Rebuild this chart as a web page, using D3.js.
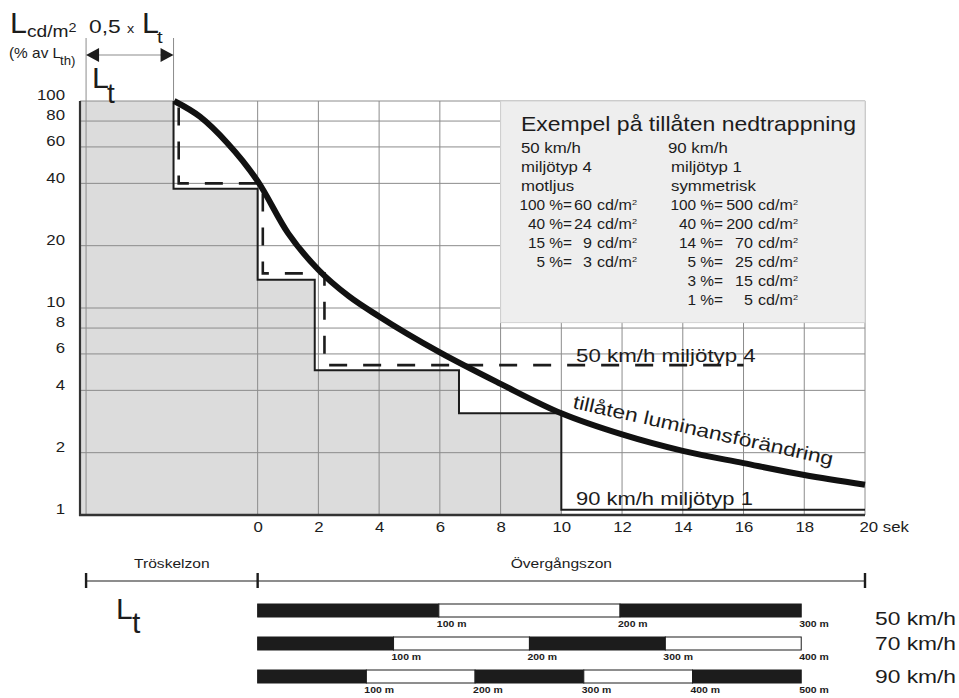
<!DOCTYPE html>
<html>
<head>
<meta charset="utf-8">
<script src="https://cdn.jsdelivr.net/npm/d3@7"></script>
<style>
  body { margin: 0; background: #fff; }
  svg { display: block; font-family: "Liberation Sans", Arial, sans-serif; }
</style>
</head>
<body>
<div id="chart"></div>
<script>
/* Nedtrappning av luminans i tunnel — tröskel- och övergångszon */

// axlar
const yTicks = [1, 2, 4, 6, 8, 10, 20, 40, 60, 80, 100];
const xTicks = [0, 2, 4, 6, 8, 10, 12, 14, 16, 18, 20];
const tMin = -5.85, tMax = 20;   // sek
const Lt = 5.65;                 // tröskelzonens längd (sek)

// tillåten luminansförändring (% av Lth)
const curveT = [-2.75, -1.9, -1.0, -0.5, 0, 1, 2, 3, 4, 6, 8, 10, 12, 14, 16, 18, 20];
const curveV = [100, 84, 62.7, 51.5, 41, 23, 15.3, 11.4, 9.1, 6.1, 4.3, 3.1, 2.45, 2.04, 1.78, 1.56, 1.4];

// 90 km/h miljötyp 1 (heldragen trappa)
const step90T = [-2.77, -2.77, 0, 1.88, 6.63, 10, 20];
const step90V = [100, 37.7, 13.7, 5.0, 3.1, 1.06, 1.06];

// 50 km/h miljötyp 4 (streckad trappa)
const step50T = [-2.6, -2.6, 0.17, 2.2, 16];
const step50V = [93, 40, 14.7, 5.3, 5.3];

// exempel-rutan
const pct50 = [100, 40, 15, 5];
const cd50 = [60, 24, 9, 3];
const pct90 = [100, 40, 14, 5, 3, 1];
const cd90 = [500, 200, 70, 25, 15, 5];

// skalstreck för avstånd
const barSpeeds = ["50 km/h", "70 km/h", "90 km/h"];
const barMax = [300, 400, 500];
const barStep = 100;
const barEnd = 17.9; // sek, där skalstrecken slutar

const W = 959, H = 698;
const INK = "#1c1c1c";
const svg = d3.select("#chart").append("svg").attr("width", W).attr("height", H);

const x = d3.scaleLinear().domain([tMin, tMax]).range([80, 865]);
const y = d3.scaleLog().domain([1, 100]).range([515, 101]);

function label(x0, y0, s, size, o = {}) {
  const t = svg.append("text")
    .attr("transform", `translate(${x0},${y0})${o.rotate ? ` rotate(${o.rotate})` : ""} scale(${o.sx || 1.2},1)`)
    .attr("font-size", size).attr("fill", o.fill || INK)
    .attr("text-anchor", o.anchor || "start");
  if (o.weight) t.attr("font-weight", o.weight);
  if (s != null) t.text(s);
  return t;
}
function unit(t, sup) {
  t.append("tspan").text("cd/m");
  t.append("tspan").attr("font-size", sup || 8).attr("dy", -5).text("2");
}

/* grå yta under 90 km/h-trappan fram till 10 s */
const fillEnd = step90T[5];
const fillPts = [[tMin, step90V[0]]].concat(
  step90T.map((t, i) => [t, step90V[i]]).slice(1).filter(p => p[0] < fillEnd));
fillPts.push([fillEnd, fillPts[fillPts.length - 1][1]]);
svg.append("path").datum(fillPts)
  .attr("d", d3.area().x(d => x(d[0])).y0(y(1)).y1(d => y(d[1])).curve(d3.curveStepAfter))
  .attr("fill", "#dcdcdc");

/* rutnät */
svg.append("g").selectAll("line").data(yTicks).join("line")
  .attr("x1", x(tMin)).attr("x2", x(tMax)).attr("y1", d => y(d)).attr("y2", d => y(d))
  .attr("stroke", "#8c8c8c").attr("stroke-width", 1);
svg.append("g").selectAll("line").data(xTicks.concat([-Lt])).join("line")
  .attr("x1", d => x(d)).attr("x2", d => x(d)).attr("y1", y(100)).attr("y2", y(1))
  .attr("stroke", "#8c8c8c").attr("stroke-width", 1);

/* exempel-ruta */
svg.append("rect").attr("x", x(8)).attr("y", y(100))
  .attr("width", x(20) - x(8)).attr("height", y(8.5) - y(100))
  .attr("fill", "#eeeeee").attr("stroke", "#d2d2d2");

/* trappor och kurva */
const stepLine = d3.line().x(d => x(d[0])).y(d => y(d[1])).curve(d3.curveStepAfter);
svg.append("path").attr("d", stepLine(step90T.map((t, i) => [t, step90V[i]])))
  .attr("fill", "none").attr("stroke", INK).attr("stroke-width", 2);
svg.append("path").attr("d", stepLine(step50T.map((t, i) => [t, step50V[i]])))
  .attr("fill", "none").attr("stroke", INK).attr("stroke-width", 2.6)
  .attr("stroke-dasharray", "18 16");
svg.append("path")
  .attr("d", d3.line().x(d => x(d[0])).y(d => y(d[1])).curve(d3.curveMonotoneX)(curveT.map((t, i) => [t, curveV[i]])))
  .attr("fill", "none").attr("stroke", "#111").attr("stroke-width", 6);

/* axlar */
const gy = svg.append("g").attr("transform", "translate(65,0)")
  .call(d3.axisLeft(y).tickValues(yTicks).tickFormat(d3.format("d")).tickSize(0).tickPadding(0));
gy.select(".domain").remove();
gy.selectAll("text").attr("font-size", 14).attr("fill", INK).attr("dy", "-0.08em")
  .attr("font-family", "Liberation Sans, Arial, sans-serif").attr("transform", "scale(1.2,1)");

const gx = svg.append("g").attr("transform", `translate(0,${y(1)})`)
  .call(d3.axisBottom(x).tickValues(xTicks).tickFormat(d => d === 20 ? "20 sek" : d).tickSize(0).tickPadding(7));
gx.select(".domain").remove();
gx.selectAll("text").attr("font-size", 14).attr("fill", INK)
  .attr("font-family", "Liberation Sans, Arial, sans-serif").attr("transform", "scale(1.2,1)");
gx.selectAll(".tick").filter(d => d === 20).select("text").attr("text-anchor", "start").attr("x", -5);

svg.append("line").attr("x1", x(tMin)).attr("x2", x(tMin)).attr("y1", y(100)).attr("y2", y(1) + 1)
  .attr("stroke", "#333").attr("stroke-width", 2.2);
svg.append("line").attr("x1", x(tMin) - 1).attr("x2", x(tMax)).attr("y1", y(1)).attr("y2", y(1))
  .attr("stroke", "#333").attr("stroke-width", 2.4);

/* axelrubrik */
label(10, 33, "L", 29, { sx: 1.05 });
label(27, 37, null, 16).call(t => unit(t, 12));
label(9, 58, "(% av L", 14, { sx: 1.1 });
label(60, 65, "th)", 12, { sx: 1.1 });

/* 0,5 x Lt med pil */
label(89, 33, "0,5", 18, { sx: 1.27 });
label(127, 33, "x", 12);
label(142, 33, "L", 29, { sx: 1.05 });
label(157, 43, "t", 17);
const xa = x(-Lt), xb = x(step90T[0]);
[xa, xb].forEach(v => svg.append("line").attr("x1", v).attr("x2", v).attr("y1", 38).attr("y2", y(100))
  .attr("stroke", "#8c8c8c").attr("stroke-width", 1));
svg.append("line").attr("x1", xa + 10).attr("x2", xb - 10).attr("y1", 55).attr("y2", 55)
  .attr("stroke", "#8c8c8c").attr("stroke-width", 1.2);
const tri = d3.line();
svg.append("path").attr("d", tri([[xa, 55], [xa + 13, 48], [xa + 13, 62]]) + "Z").attr("fill", INK);
svg.append("path").attr("d", tri([[xb, 55], [xb - 13, 48], [xb - 13, 62]]) + "Z").attr("fill", INK);

/* Lt i diagrammet */
label(92, 88, "L", 29, { sx: 1.05 });
label(107, 103, "t", 28, { sx: 1.0 });

/* text i exempel-rutan */
label(521, 131, "Exempel på tillåten nedtrappning", 20, { sx: 1.15 });
label(521, 153, "50 km/h", 14);
label(521, 172, "miljötyp 4", 14);
label(521, 191, "motljus", 14);
label(668, 153, "90 km/h", 14);
label(671, 172, "miljötyp 1", 14);
label(671, 191, "symmetrisk", 14);
pct50.forEach((p, i) => {
  const by = 210 + i * 19;
  label(572, by, p + " %=", 14, { anchor: "end", sx: 1.1 });
  label(592, by, cd50[i], 14, { anchor: "end", sx: 1.15 });
  label(597, by, null, 14, { sx: 1.15 }).call(t => unit(t));
});
pct90.forEach((p, i) => {
  const by = 210 + i * 19;
  label(723, by, p + " %=", 14, { anchor: "end", sx: 1.1 });
  label(753, by, cd90[i], 14, { anchor: "end", sx: 1.15 });
  label(758, by, null, 14, { sx: 1.15 }).call(t => unit(t));
});

/* kurvetiketter */
label(576, 362, "50 km/h miljötyp 4", 18, { sx: 1.24 });
label(576, 505, "90 km/h miljötyp 1", 18, { sx: 1.22 });
label(572, 408, "tillåten luminansförändring", 19, { rotate: 12.5, sx: 1.2 });

/* zoner */
const zy = 581;
svg.append("line").attr("x1", x(-Lt)).attr("x2", x(tMax)).attr("y1", zy).attr("y2", zy)
  .attr("stroke", INK).attr("stroke-width", 1.2);
[x(-Lt), x(0), x(tMax)].forEach(v => svg.append("line").attr("x1", v).attr("x2", v)
  .attr("y1", zy - 8).attr("y2", zy + 7).attr("stroke", INK).attr("stroke-width", 2.4));
label((x(-Lt) + x(0)) / 2, 568, "Tröskelzon", 13, { anchor: "middle" });
label((x(0) + x(tMax)) / 2, 568, "Övergångszon", 13, { anchor: "middle" });
label(116, 619, "L", 30, { sx: 1.0 });
label(132, 633, "t", 30, { sx: 1.0 });

/* avståndsskalor */
const barTop = [604, 637, 670], barH = 13, speedY = [625, 650, 683];
barSpeeds.forEach((sp, i) => {
  const bs = d3.scaleLinear().domain([0, barMax[i]]).range([x(0), x(barEnd)]);
  const ticks = d3.range(0, barMax[i] + 1, barStep);
  svg.append("g").selectAll("rect").data(ticks.slice(0, -1)).join("rect")
    .attr("x", d => bs(d)).attr("width", d => bs(d + barStep) - bs(d))
    .attr("y", barTop[i]).attr("height", barH)
    .attr("fill", (d, j) => j % 2 ? "#fff" : INK).attr("stroke", INK).attr("stroke-width", 1);
  ticks.slice(1).forEach(d => label(bs(d) - 2, barTop[i] + barH + 10, d + " m", 9.5, { weight: "bold", sx: 1.1 }));
  label(875, speedY[i], sp, 19, { sx: 1.2 });
});
</script>
</body>
</html>
